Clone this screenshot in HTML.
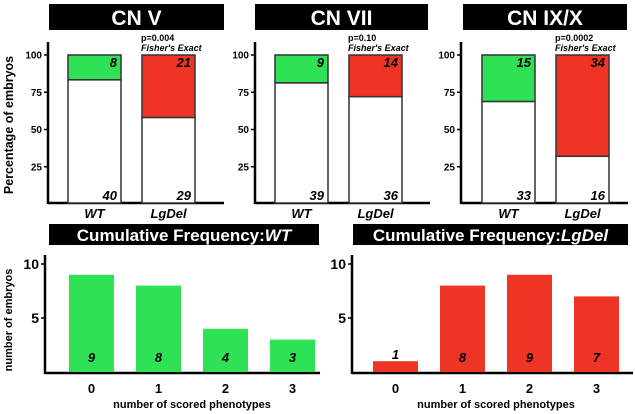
<!DOCTYPE html>
<html><head><meta charset="utf-8"><style>
body{margin:0;background:#fff}svg{display:block}
text{font-family:"Liberation Sans",Arial,sans-serif;font-weight:bold}
</style></head><body>
<svg id="c" width="635" height="414" viewBox="0 0 635 414"></svg>
<script>
const panelTitles=["CN V","CN VII","CN IX/X"];
const pValues=["p=0.004","p=0.10","p=0.0002"];
const wtNormal=[40,39,33];
const wtAffected=[8,9,15];
const lgNormal=[29,36,16];
const lgAffected=[21,14,34];
const pctTicks=[25,50,75,100];
const cumCats=["0","1","2","3"];
const cumWT=[9,8,4,3];
const cumLg=[1,8,9,7];
const cumTicks=[5,10];

const svg=document.getElementById('c');const NS="http://www.w3.org/2000/svg";
function el(t,a,txt){const e=document.createElementNS(NS,t);for(const k in a)e.setAttribute(k,a[k]);if(txt!==undefined)e.textContent=txt;svg.appendChild(e);return e;}
const GREEN="#2ee155",RED="#ee3424";
const panels=[{ax:48,hx:49,hw:175,b1:68,b2:142,end:224},{ax:255,hx:255,hw:173,b1:275,b2:349,end:430},{ax:461,hx:463,hw:164,b1:482,b2:556,end:628}];
const bw=53;
const yP=v=>204-v*1.49;
panels.forEach((p,i)=>{
 let e=el('rect',{x:p.hx,y:4,width:p.hw,height:26,fill:'#000'});
 e=el('text',{x:p.hx+p.hw/2,y:25,'text-anchor':'middle',fill:'#fff','font-size':21},panelTitles[i]);
 e=el('line',{x1:p.ax,y1:42,x2:p.ax,y2:204,stroke:'#000','stroke-width':2.5});
 e=el('line',{x1:p.ax,y1:203,x2:p.end,y2:203,stroke:'#000','stroke-width':2.5});
 pctTicks.forEach(t=>{
  let k=el('line',{x1:p.ax-4,y1:yP(t),x2:p.ax,y2:yP(t),stroke:'#000','stroke-width':1.5});
  k=el('text',{x:p.ax-6,y:yP(t)+3.5,'text-anchor':'end','font-size':10},String(t));
 });
 [[p.b1,wtNormal[i],wtAffected[i],GREEN,'WT'],[p.b2,lgNormal[i],lgAffected[i],RED,'LgDel']].forEach(([x,n,a,col,lab])=>{
  const pct=100*n/(n+a);
  let r=el('rect',{x:x,y:yP(100),width:bw,height:yP(pct)-yP(100),fill:col,stroke:'#333','stroke-width':1.5});
  r=el('rect',{x:x,y:yP(pct),width:bw,height:yP(0)-yP(pct)-1,fill:'#fff',stroke:'#333','stroke-width':1.5});
  r=el('text',{x:x+bw-4,y:yP(100)+12,'text-anchor':'end','font-size':13,'font-style':'italic'},String(a));
  r=el('text',{x:x+bw-4,y:200,'text-anchor':'end','font-size':13,'font-style':'italic'},String(n));
  r=el('text',{x:x+bw/2,y:218,'text-anchor':'middle','font-size':13,'font-style':'italic'},lab);
 });
 let t=el('text',{x:p.b2-1,y:41,'font-size':9},pValues[i]);
 t=el('text',{x:p.b2-1,y:51,'font-size':9,'font-style':'italic'},"Fisher's Exact");
});
let yt=el('text',{x:13,y:125,transform:'rotate(-90 13 125)','text-anchor':'middle','font-size':12.5,'font-weight':'normal'},'Percentage of embryos');

const bp=[{hx:49,hw:270,ax:45,x0:69,end:320,vals:cumWT,col:GREEN,title:'WT'},{hx:353,hw:275,ax:352,x0:373,end:633,vals:cumLg,col:RED,title:'LgDel'}];
const yC=v=>372-v*10.8;
bp.forEach((p,i)=>{
 let e=el('rect',{x:p.hx,y:224,width:p.hw,height:21,fill:'#000'});
 e=el('text',{x:p.hx+p.hw/2,y:241,'text-anchor':'middle',fill:'#fff','font-size':17});
 const s1=document.createElementNS(NS,'tspan');s1.textContent='Cumulative Frequency:';e.appendChild(s1);
 const s2=document.createElementNS(NS,'tspan');s2.setAttribute('font-style','italic');s2.textContent=p.title;e.appendChild(s2);
 e=el('line',{x1:p.ax,y1:255,x2:p.ax,y2:374,stroke:'#000','stroke-width':2.5});
 e=el('line',{x1:p.ax,y1:373,x2:p.end,y2:373,stroke:'#000','stroke-width':2.5});
 cumTicks.forEach(t=>{
  let k=el('line',{x1:p.ax-4,y1:yC(t),x2:p.ax,y2:yC(t),stroke:'#000','stroke-width':1.5});
  k=el('text',{x:p.ax-6,y:yC(t)+5,'text-anchor':'end','font-size':14},String(t));
 });
 p.vals.forEach((v,j)=>{
  const x=p.x0+j*67;
  let r=el('rect',{x:x,y:yC(v),width:45,height:yC(0)-yC(v),fill:p.col});
  r=el('text',{x:x+22.5,y:v<2?yC(v)-2:362,'text-anchor':'middle','font-size':13,'font-style':'italic'},String(v));
  r=el('text',{x:x+22.5,y:393,'text-anchor':'middle','font-size':13},cumCats[j]);
 });
 e=el('text',{x:p.x0+123,y:408,'text-anchor':'middle','font-size':11},'number of scored phenotypes');
});
yt=el('text',{x:12,y:320,transform:'rotate(-90 12 320)','text-anchor':'middle','font-size':11},'number of embryos');

</script>
</body></html>
